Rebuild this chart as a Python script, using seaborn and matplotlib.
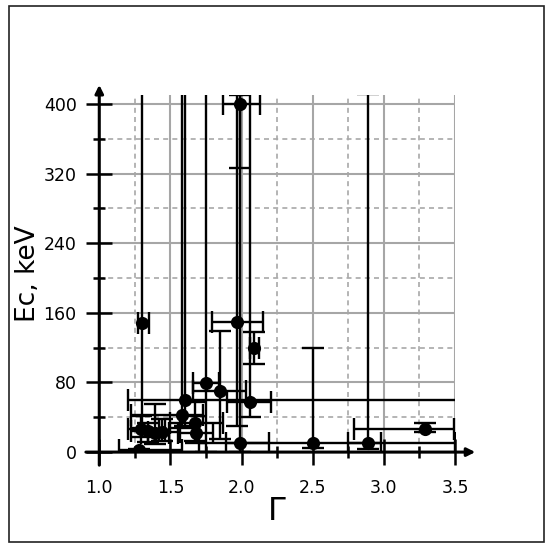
import numpy as np
import pandas as pd
import seaborn as sns
import matplotlib.pyplot as plt
from matplotlib.patches import Rectangle
from matplotlib.ticker import MultipleLocator

# photon index and cutoff energy, with asymmetric errors
gamma = [1.30, 1.99, 1.97, 2.09, 1.75, 1.85, 1.60, 2.06, 1.58, 1.67,
         1.68, 1.29, 1.34, 1.39, 1.44, 1.28, 1.99, 2.50, 2.89, 3.29]
ec = [148, 400, 150, 120, 79, 70, 60, 58, 43, 33,
      22, 27, 24, 22, 23, 2, 10, 10, 11, 26]
gamma_lo = [0.03, 0.12, 0.18, 0.03, 0.09, 0.19, 0.40, 0.16, 0.36, 0.17,
            0.13, 0.09, 0.12, 0.10, 0.10, 0.14, 0.10, 0.80, 0.14, 0.50]
gamma_hi = [0.05, 0.14, 0.18, 0.03, 0.09, 0.18, 2.50, 0.15, 0.15, 0.20,
            0.12, 0.13, 0.12, 0.10, 0.13, 0.30, 0.20, 1.00, 0.09, 0.20]
ec_lo = [120, 74, 120, 19, 79, 55, 30, 18, 15, 20,
         12, 10, 12, 13, 10, 2, 10, 5, 8, 3]
ec_hi = [400, 100, 400, 18, 400, 69, 400, 400, 400, 25,
         20, 15, 10, 33, 15, 2, 400, 110, 400, 7]

df = pd.DataFrame({"gamma": gamma, "ec": ec})

sns.set_style("white")
plt.rcParams["font.family"] = ["DejaVu Sans"]
plt.rcParams["text.color"] = "black"
plt.rcParams["axes.labelcolor"] = "black"
plt.rcParams["xtick.color"] = "black"
plt.rcParams["ytick.color"] = "black"

fig = plt.figure(figsize=(5.5, 5.48), dpi=100)
ax = fig.add_axes([0.1805, 0.175, 0.6467, 0.651])

ax.errorbar(gamma, ec, xerr=[gamma_lo, gamma_hi], yerr=[ec_lo, ec_hi],
            fmt="none", ecolor="black", elinewidth=1.7, capsize=8, capthick=1.7, zorder=3)
sns.scatterplot(data=df, x="gamma", y="ec", ax=ax, color="black", s=90,
                edgecolor="black", linewidth=0, zorder=4)

ax.set_xlim(1.0, 3.5)
ax.set_ylim(0, 410)
ax.xaxis.set_major_locator(MultipleLocator(0.5))
ax.xaxis.set_minor_locator(MultipleLocator(0.25))
ax.set_yticks([0, 80, 160, 240, 320, 400])
ax.yaxis.set_minor_locator(MultipleLocator(40))
ax.xaxis.set_major_formatter(plt.FuncFormatter(lambda v, p: f"{v:.1f}"))

ax.grid(which="major", color="#a6a6a6", linewidth=1.5, linestyle="-", zorder=0)
ax.grid(which="minor", color="#a8a8a8", linewidth=1.2, linestyle=(0, (3, 2.5)), zorder=0)
ax.set_axisbelow(True)

for s in ax.spines.values():
    s.set_visible(False)

ax.tick_params(which="major", direction="inout", length=18.7, width=1.8,
               colors="black", labelsize=12.5, pad=7, left=True, bottom=True)
ax.tick_params(axis="x", which="major", pad=10)
ax.tick_params(which="minor", direction="inout", length=9, width=1.8,
               colors="black", left=True, bottom=True)

# axis lines with arrows
arrow = dict(arrowstyle="-|>", lw=2.2, color="black", mutation_scale=12, shrinkA=0, shrinkB=0)
ax.annotate("", xy=(1.0, 422), xytext=(1.0, -15), arrowprops=arrow, annotation_clip=False)
ax.annotate("", xy=(3.643, 0), xytext=(0.906, 0), arrowprops=arrow, annotation_clip=False)

ax.set_xlabel("Γ", fontsize=23, labelpad=-1, color="black")
ax.set_ylabel("Ec, keV", fontsize=19, labelpad=2, color="black")

fig.patches.append(Rectangle((9 / 550, 6 / 548), 535 / 550, 536 / 548, transform=fig.transFigure,
                             fill=False, edgecolor="#222222", linewidth=1.2))

fig.savefig("out.png", dpi=100)
